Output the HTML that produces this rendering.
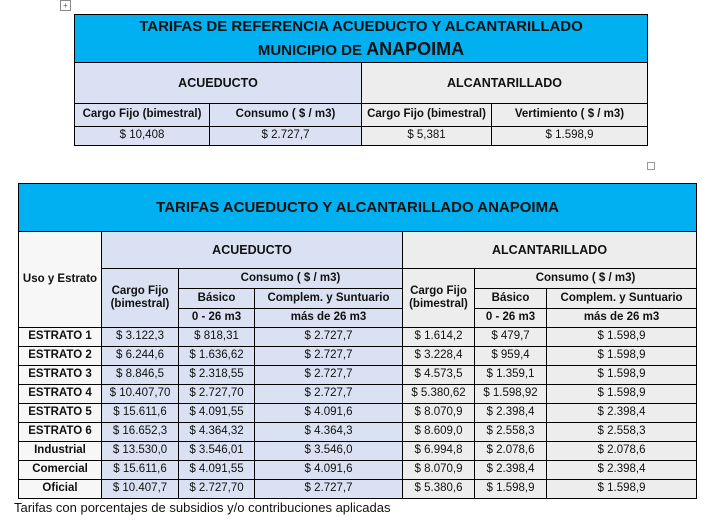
<!DOCTYPE html>
<html><head><meta charset="utf-8"><style>
body{margin:0;width:717px;height:526px;background:#fff;position:relative;overflow:hidden;font-family:"Liberation Sans",sans-serif;}
table{position:absolute;border-collapse:collapse;table-layout:fixed;}
td{border:1px solid #000;text-align:center;padding:0;font-size:11.5px;color:#111;overflow:hidden;white-space:nowrap;line-height:1.15}
.b{font-weight:bold}
.blue{background:#00b0f0;font-weight:bold;color:#111}
.lav{background:#d9e1f2}
.gr{background:#ededed}
.w{background:#f7f7f7}
</style></head><body>
<div style="position:absolute;left:60px;top:0;width:9px;height:9px;border:1px solid #888;font-size:8px;line-height:9px;text-align:center;color:#555">+</div>
<table style="left:74px;top:14px;width:573px">
<colgroup><col style="width:135px"><col style="width:152px"><col style="width:130px"><col style="width:156px"></colgroup>
<tr style="height:48px"><td colspan="4" class="blue" style="font-size:15px;line-height:22px">TARIFAS DE REFERENCIA ACUEDUCTO Y ALCANTARILLADO<br>MUNICIPIO DE <span style="font-size:18px">ANAPOIMA</span></td></tr>
<tr style="height:41px"><td colspan="2" class="lav b" style="font-size:12.5px">ACUEDUCTO</td><td colspan="2" class="gr b" style="font-size:12.5px">ALCANTARILLADO</td></tr>
<tr style="height:23px"><td class="lav b">Cargo Fijo (bimestral)</td><td class="lav b">Consumo ( $ / m3)</td><td class="gr b">Cargo Fijo (bimestral)</td><td class="gr b">Vertimiento ( $ / m3)</td></tr>
<tr style="height:19px"><td class="lav">$ 10,408</td><td class="lav">$ 2.727,7</td><td class="gr">$ 5,381</td><td class="gr">$ 1.598,9</td></tr>
</table>
<div style="position:absolute;left:647px;top:162px;width:6px;height:6px;border:1px solid #999"></div>
<table style="left:18px;top:183px;width:678px">
<colgroup><col style="width:83px"><col style="width:77px"><col style="width:76px"><col style="width:148px"><col style="width:72px"><col style="width:72px"><col style="width:150px"></colgroup>
<tr style="height:48px"><td colspan="7" class="blue" style="font-size:15px">TARIFAS ACUEDUCTO Y ALCANTARILLADO ANAPOIMA</td></tr>
<tr style="height:37px"><td rowspan="4" class="w b">Uso y Estrato</td><td colspan="3" class="lav b" style="font-size:12.5px">ACUEDUCTO</td><td colspan="3" class="gr b" style="font-size:12.5px">ALCANTARILLADO</td></tr>
<tr style="height:20px"><td rowspan="3" class="lav b">Cargo Fijo<br>(bimestral)</td><td colspan="2" class="lav b">Consumo ( $ / m3)</td><td rowspan="3" class="gr b">Cargo Fijo<br>(bimestral)</td><td colspan="2" class="gr b">Consumo ( $ / m3)</td></tr>
<tr style="height:20px"><td class="lav b">Básico</td><td class="lav b">Complem. y Suntuario</td><td class="gr b">Básico</td><td class="gr b">Complem. y Suntuario</td></tr>
<tr style="height:19px"><td class="lav b">0 - 26 m3</td><td class="lav b">más de 26 m3</td><td class="gr b">0 - 26 m3</td><td class="gr b">más de 26 m3</td></tr>
<tr style="height:19px"><td class="w b">ESTRATO 1</td><td class="lav">$ 3.122,3</td><td class="lav">$ 818,31</td><td class="lav">$ 2.727,7</td><td class="gr">$ 1.614,2</td><td class="gr">$ 479,7</td><td class="gr">$ 1.598,9</td></tr>
<tr style="height:19px"><td class="w b">ESTRATO 2</td><td class="lav">$ 6.244,6</td><td class="lav">$ 1.636,62</td><td class="lav">$ 2.727,7</td><td class="gr">$ 3.228,4</td><td class="gr">$ 959,4</td><td class="gr">$ 1.598,9</td></tr>
<tr style="height:19px"><td class="w b">ESTRATO 3</td><td class="lav">$ 8.846,5</td><td class="lav">$ 2.318,55</td><td class="lav">$ 2.727,7</td><td class="gr">$ 4.573,5</td><td class="gr">$ 1.359,1</td><td class="gr">$ 1.598,9</td></tr>
<tr style="height:19px"><td class="w b">ESTRATO 4</td><td class="lav">$ 10.407,70</td><td class="lav">$ 2.727,70</td><td class="lav">$ 2.727,7</td><td class="gr">$ 5.380,62</td><td class="gr">$ 1.598,92</td><td class="gr">$ 1.598,9</td></tr>
<tr style="height:19px"><td class="w b">ESTRATO 5</td><td class="lav">$ 15.611,6</td><td class="lav">$ 4.091,55</td><td class="lav">$ 4.091,6</td><td class="gr">$ 8.070,9</td><td class="gr">$ 2.398,4</td><td class="gr">$ 2.398,4</td></tr>
<tr style="height:19px"><td class="w b">ESTRATO 6</td><td class="lav">$ 16.652,3</td><td class="lav">$ 4.364,32</td><td class="lav">$ 4.364,3</td><td class="gr">$ 8.609,0</td><td class="gr">$ 2.558,3</td><td class="gr">$ 2.558,3</td></tr>
<tr style="height:19px"><td class="w b">Industrial</td><td class="lav">$ 13.530,0</td><td class="lav">$ 3.546,01</td><td class="lav">$ 3.546,0</td><td class="gr">$ 6.994,8</td><td class="gr">$ 2.078,6</td><td class="gr">$ 2.078,6</td></tr>
<tr style="height:19px"><td class="w b">Comercial</td><td class="lav">$ 15.611,6</td><td class="lav">$ 4.091,55</td><td class="lav">$ 4.091,6</td><td class="gr">$ 8.070,9</td><td class="gr">$ 2.398,4</td><td class="gr">$ 2.398,4</td></tr>
<tr style="height:19px"><td class="w b">Oficial</td><td class="lav">$ 10.407,7</td><td class="lav">$ 2.727,70</td><td class="lav">$ 2.727,7</td><td class="gr">$ 5.380,6</td><td class="gr">$ 1.598,9</td><td class="gr">$ 1.598,9</td></tr>
</table>
<div style="position:absolute;left:14px;top:500px;font-family:'Liberation Sans',sans-serif;font-size:13px;color:#111">Tarifas con porcentajes de subsidios y/o contribuciones aplicadas</div>
</body></html>
